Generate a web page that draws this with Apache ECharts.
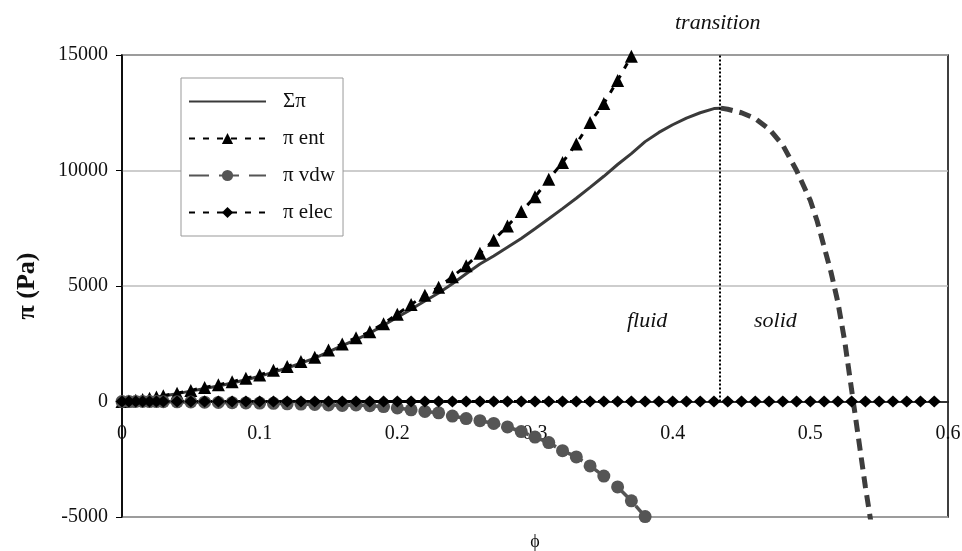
<!DOCTYPE html>
<html>
<head>
<meta charset="utf-8">
<script src="https://cdn.jsdelivr.net/npm/echarts@6/dist/echarts.min.js"></script>
<style>
html,body{margin:0;padding:0;background:#fff;}
#chart{width:962px;height:551px;}
</style>
</head>
<body>
<div id="chart"></div>
<script>
// ---- data ----
var phiSum = [0,0.01,0.02,0.03,0.04,0.05,0.06,0.07,0.08,0.09,0.10,0.11,0.12,0.13,0.14,0.15,0.16,0.17,0.18,0.19,0.20,0.21,0.22,0.23,0.24,0.25,0.26,0.27,0.28,0.29,0.30,0.31,0.32,0.33,0.34,0.35,0.36,0.37,0.38,0.39,0.40,0.41,0.42,0.43,0.435];
var piSum  = [0,60,150,240,340,450,560,670,800,940,1090,1270,1450,1660,1880,2150,2420,2680,2960,3300,3650,3990,4350,4700,5100,5530,5950,6300,6680,7060,7480,7910,8350,8800,9270,9750,10260,10730,11250,11650,11980,12270,12500,12680,12700];

var phiSolid = [0.435,0.44,0.45,0.46,0.47,0.48,0.49,0.50,0.505,0.51,0.515,0.52,0.525,0.53,0.535,0.54,0.545];
var piSolid  = [12700,12650,12500,12250,11800,11100,10000,8700,7800,6700,5600,4300,2600,500,-1600,-3700,-5600];

var phiEnt = [0,0.005,0.01,0.015,0.02,0.025,0.03,0.04,0.05,0.06,0.07,0.08,0.09,0.10,0.11,0.12,0.13,0.14,0.15,0.16,0.17,0.18,0.19,0.20,0.21,0.22,0.23,0.24,0.25,0.26,0.27,0.28,0.29,0.30,0.31,0.32,0.33,0.34,0.35,0.36,0.37];
var piEnt  = [0,20,50,90,140,190,250,360,480,610,720,850,1010,1150,1350,1520,1730,1920,2230,2490,2760,3020,3370,3780,4200,4600,4950,5400,5880,6420,6980,7600,8220,8860,9620,10350,11150,12080,12900,13900,14950];

var phiVdw = [0,0.005,0.01,0.015,0.02,0.025,0.03,0.04,0.05,0.06,0.07,0.08,0.09,0.10,0.11,0.12,0.13,0.14,0.15,0.16,0.17,0.18,0.19,0.20,0.21,0.22,0.23,0.24,0.25,0.26,0.27,0.28,0.29,0.30,0.31,0.32,0.33,0.34,0.35,0.36,0.37,0.38];
var piVdw  = [0,0,0,0,-5,-5,-10,-15,-20,-30,-40,-50,-60,-70,-80,-100,-110,-130,-150,-170,-150,-180,-220,-280,-360,-430,-490,-630,-740,-830,-950,-1100,-1300,-1540,-1780,-2130,-2400,-2790,-3230,-3700,-4300,-4980];

var phiElec = [0,0.005,0.01,0.015,0.02,0.025,0.03,0.04,0.05,0.06,0.07,0.08,0.09,0.10,0.11,0.12,0.13,0.14,0.15,0.16,0.17,0.18,0.19,0.20,0.21,0.22,0.23,0.24,0.25,0.26,0.27,0.28,0.29,0.30,0.31,0.32,0.33,0.34,0.35,0.36,0.37,0.38,0.39,0.40,0.41,0.42,0.43,0.44,0.45,0.46,0.47,0.48,0.49,0.50,0.51,0.52,0.53,0.54,0.55,0.56,0.57,0.58,0.59];
var piElec  = [0,0,0,0,0,0,0,0,0,0,0,0,0,0,0,0,0,0,0,0,0,0,0,0,0,0,0,0,0,0,0,0,0,0,0,0,0,0,0,0,0,0,0,0,0,0,0,0,0,0,0,0,0,0,0,0,0,0,0,0,0,0,0];

var transitionPhi = 0.434;
var xTicks = {min:0, max:0.6, interval:0.1};
var yTicks = {min:-5000, max:15000, interval:5000};
var seriesNames = ['\u03A3\u03C0', '\u03C0 ent', '\u03C0 vdw', '\u03C0 elec'];

function pairs(xs, ys){ return xs.map(function(x,i){ return [x, ys[i]]; }); }

var serif = '"Liberation Serif","Times New Roman",serif';
var chart = echarts.init(document.getElementById('chart'));
chart.setOption({
  animation:false,
  backgroundColor:'#fff',
  grid:{left:122, right:14, top:55, bottom:34, show:true, borderColor:'#000', borderWidth:1.5,
        backgroundColor:'transparent', containLabel:false, outerBoundsMode:'none'},
  legend:{
    data:[
      {name:seriesNames[0], itemStyle:{opacity:0}},
      {name:seriesNames[1]},
      {name:seriesNames[2]},
      {name:seriesNames[3]}
    ],
    orient:'vertical', left:181, top:78,
    itemWidth:77, itemHeight:14, itemGap:16,
    padding:[13,8,13,7],
    borderColor:'#999', borderWidth:1, backgroundColor:'#fff',
    textStyle:{fontFamily:serif, fontSize:21, color:'#111', padding:[0,0,0,12]}
  },
  xAxis:{
    type:'value', min:xTicks.min, max:xTicks.max, interval:xTicks.interval,
    name:'\u03D5', nameLocation:'middle', nameGap:16,
    nameTextStyle:{fontFamily:serif, fontSize:18, color:'#111'},
    axisLine:{onZero:true, lineStyle:{color:'#000', width:1.5}},
    axisTick:{show:false},
    axisLabel:{fontFamily:serif, fontSize:20, color:'#111', margin:-93},
    splitLine:{show:false}
  },
  yAxis:{
    type:'value', min:yTicks.min, max:yTicks.max, interval:yTicks.interval,
    name:'\u03C0 (Pa)', nameLocation:'middle', nameGap:82,
    nameTextStyle:{fontFamily:serif, fontSize:26, fontWeight:'bold', color:'#111'},
    axisLine:{show:true, lineStyle:{color:'#000', width:1.5}},
    axisTick:{show:true, length:6, lineStyle:{color:'#000'}},
    axisLabel:{fontFamily:serif, fontSize:20, color:'#111', margin:14,
               formatter:function(v){ return String(v); }},
    splitLine:{show:true, lineStyle:{color:'#bdbdbd', width:1.5}}
  },
  series:[
    {
      name:seriesNames[0], type:'line', data:pairs(phiSum, piSum),
      showSymbol:false, symbol:'none',
      lineStyle:{color:'#3a3a3a', width:3}, itemStyle:{color:'#3a3a3a'},
      markLine:{
        silent:true, symbol:'none', label:{show:false},
        lineStyle:{color:'#000', type:'dotted', width:2},
        data:[[{coord:[transitionPhi, 0]}, {coord:[transitionPhi, yTicks.max]}]]
      }
    },
    {
      name:'solidBranch', type:'line', data:pairs(phiSolid, piSolid),
      symbol:'none', lineStyle:{color:'#3d3d3d', width:5, type:[12,7]}
    },
    {
      name:seriesNames[1], type:'line', data:pairs(phiEnt, piEnt),
      symbol:'triangle', symbolSize:13,
      lineStyle:{color:'#000', width:3, type:[6,8]}, itemStyle:{color:'#000'}
    },
    {
      name:seriesNames[2], type:'line', data:pairs(phiVdw, piVdw),
      symbol:'circle', symbolSize:13,
      lineStyle:{color:'#555', width:3.5, type:[20,10]}, itemStyle:{color:'#555'}
    },
    {
      name:seriesNames[3], type:'line', data:pairs(phiElec, piElec),
      symbol:'diamond', symbolSize:[13,12],
      lineStyle:{color:'#000', width:3, type:[6,8]}, itemStyle:{color:'#000'}
    }
  ],
  graphic:[
    {type:'text', left:675, top:12, style:{text:'transition', font:'italic 22px '+serif, fill:'#111'}},
    {type:'text', left:627, top:310, style:{text:'fluid', font:'italic 22px '+serif, fill:'#111'}},
    {type:'text', left:754, top:310, style:{text:'solid', font:'italic 22px '+serif, fill:'#111'}}
  ]
});
</script>
</body>
</html>
